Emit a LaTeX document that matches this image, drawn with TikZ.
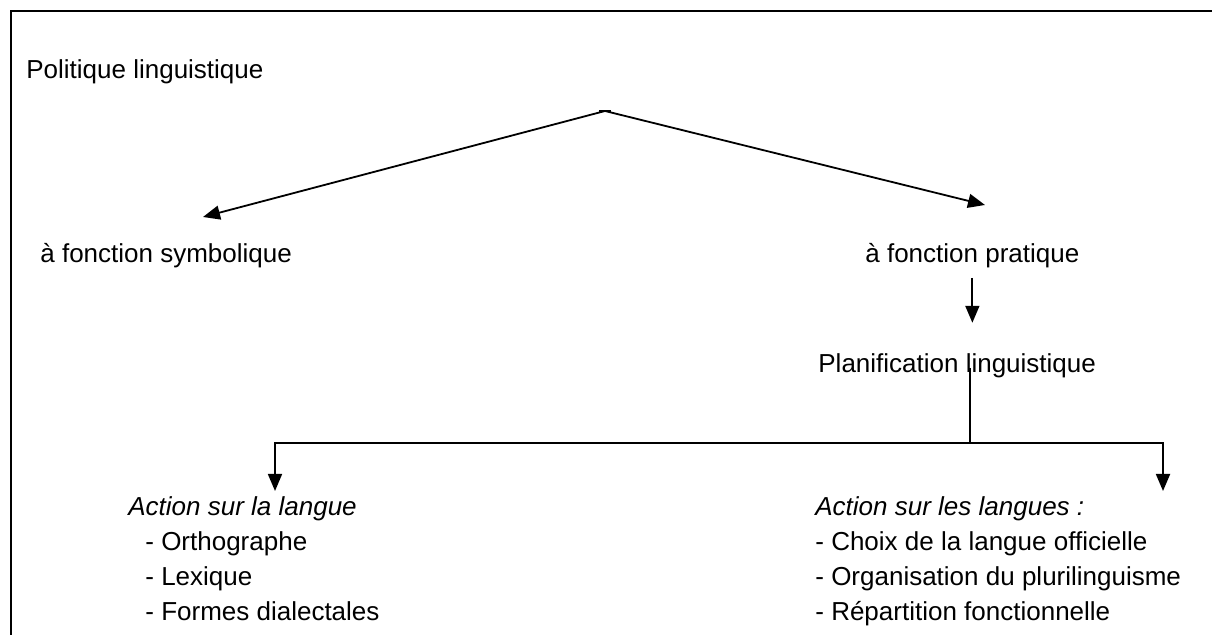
\documentclass[tikz,border=0pt]{standalone}
\usepackage{fontspec}
\setmainfont{Liberation Sans}
\usetikzlibrary{arrows.meta}
\tikzset{tx/.style = {inner sep=0pt, anchor=base west, font=\fontsize{13}{17.5}\selectfont},
           bl/.style = {inner sep=0pt, anchor=base west, align=left, font=\fontsize{13}{17.5}\selectfont},
           ln/.style = {line width=0.9pt},
           ar/.style = {line width=0.9pt, -{Triangle[length=8.5pt, width=7pt]}}}

\begin{document}
\begin{tikzpicture}[x=0.5pt, y=-0.5pt]
    \useasboundingbox (0,0) rectangle (1212,635);
    \draw[line width=1pt] (11,635) -- (11,11) -- (1212,11);
    \node[tx] (pol) at (26,79) {Politique linguistique};
    \node[tx] (sym) at (40,263) {à fonction symbolique};
    \node[tx] (prat) at (865,263) {à fonction pratique};
    \node[tx] (plan) at (818,373) {Planification linguistique};
    % base of a multi-line node is its last line
    \node[bl] (lng) at (128,621) {\textit{Action sur la langue}\\
      \hspace*{8.5pt}- Orthographe\\ \hspace*{8.5pt}- Lexique\\ \hspace*{8.5pt}- Formes dialectales};
    \node[bl] (lngs) at (815,621) {\textit{Action sur les langues :}\\
      - Choix de la langue officielle\\ - Organisation du plurilinguisme\\ - Répartition fonctionnelle};
    \coordinate (top) at (605,111);
    \coordinate (ls) at (203,217); \coordinate (rs) at (985,205);
    \coordinate (j) at (970,443);
    \coordinate (sl) at (275,491); \coordinate (sr) at (1163,491);
    \draw[ln] ([xshift=-3pt]top) -- ([xshift=3pt]top);
    \draw[ar] (top) -- (ls);
    \draw[ar] (top) -- (rs);
    \draw[ar] ([yshift=-4.5pt]prat.south) -- ([yshift=15.5pt]prat.south |- plan.north);
    \draw[ln] ([yshift=2.5pt]j |- plan.base) -- (j);
    \draw[ar] (j) -| (sl);
    \draw[ar] (j) -| (sr);
\end{tikzpicture}
\end{document}
